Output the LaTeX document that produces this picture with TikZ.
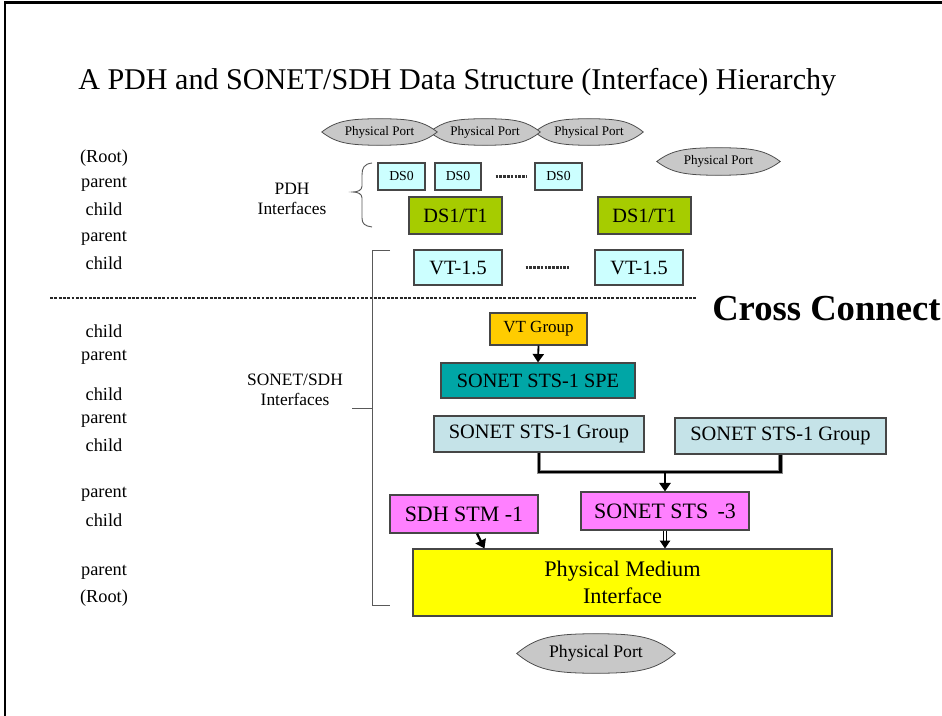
\documentclass[tikz,border=0pt]{standalone}
\usepackage{fontspec}
\setmainfont{Liberation Serif}
\usetikzlibrary{arrows.meta,calc,shadows}

\definecolor{boxline}{RGB}{70,70,70}
\definecolor{dszero}{RGB}{204,255,255}
\definecolor{dsone}{RGB}{166,204,0}
\definecolor{vtgroup}{RGB}{255,204,0}
\definecolor{spe}{RGB}{0,166,166}
\definecolor{stsgroup}{RGB}{197,227,232}
\definecolor{stm}{RGB}{255,128,255}
\definecolor{medium}{RGB}{255,255,0}
\definecolor{port}{RGB}{200,200,200}

\pgfdeclarelayer{portlayer}
\pgfsetlayers{portlayer,main}

\newcommand\fs[1]{\fontsize{#1}{#1}\selectfont}

% grey port outline: an ellipse with pointed left and right ends,
% filling the bounding box of the named node
\newcommand\portoutline[1]{%
  \draw[portbody] let \p1=(#1.north west), \p2=(#1.south east),
      \n1={\x2-\x1}, \n2={\y1-\y2}, \n3={(\x1+\x2)/2}, \n4={(\y1+\y2)/2} in
    (\x1,\n4)
    .. controls ({\x1+0.12*\n1},{\y1-0.1*\n2}) and ({\n3-0.28*\n1},\y1) .. (\n3,\y1)
    .. controls ({\n3+0.28*\n1},\y1) and ({\x2-0.12*\n1},{\y1-0.1*\n2}) .. (\x2,\n4)
    .. controls ({\x2-0.12*\n1},{\y2+0.1*\n2}) and ({\n3+0.28*\n1},\y2) .. (\n3,\y2)
    .. controls ({\n3-0.28*\n1},\y2) and ({\x1+0.12*\n1},{\y2+0.1*\n2}) .. cycle;}

\tikzset{
  % a rectangle given by its corners (x1,y1) and (x2,y2) in picture units
  spanning/.style n args={4}{at={({(#1+#3)/2},{(#2+#4)/2})},
    minimum width={(#3-#1)*0.7643pt}, minimum height={(#4-#2)*0.7643pt}},
  box/.style={draw=boxline, line width=0.8pt, inner sep=0pt, align=center,
    drop shadow={shadow xshift=1pt, shadow yshift=-1pt, fill=black!55, opacity=1}},
  portbox/.style={inner sep=0pt, align=center},
  portbody/.style={draw=black!70, line width=0.6pt, fill=port},
  lbl/.style={font=\fs{14}, inner sep=0pt},
  bracketline/.style={draw=black!65, line width=0.7pt},
  thickarrow/.style={line width=1.6pt, -{Triangle[length=6.5pt,width=8.5pt]}},
  haloline/.style={preaction={draw=black!45, line width=3.4pt}, line width=1.7pt},
  dblarrow/.style={line width=0.7pt, double=white, double distance=1.4pt,
    -{Triangle[length=6pt,width=8pt]}},
  dotrun/.style={line width=2.6pt, dash pattern=on 2pt off 0.9pt, black!80},
  crossline/.style={line width=1.4pt, dash pattern=on 2.2pt off 1.1pt, black!85},
}

\begin{document}
\begin{tikzpicture}[x=0.7643pt, y=-0.7643pt]
\useasboundingbox (0,0) rectangle (942,716);

% page frame (top and left edges)
\draw[line width=2.2pt] (5,716) -- (5,2.5) -- (942,2.5);

% title
\node[anchor=base west, inner sep=0pt, font=\fs{23}] (title) at (78,90)
  {A PDH and SONET/SDH Data Structure (Interface) Hierarchy};

% physical ports
\node[portbox, spanning={322}{119}{437}{145}, font=\fs{10}] (pp1) {Physical Port};
\node[portbox, spanning={430}{119}{540}{145}, font=\fs{10}] (pp2) {Physical Port};
\node[portbox, spanning={535}{119}{643}{145}, font=\fs{10}] (pp3) {Physical Port};
\node[portbox, spanning={657}{148}{780}{175}, font=\fs{10}] (pp4) {Physical Port};
\node[portbox, spanning={517}{634}{675}{673}, font=\fs{13.5}] (pp5) {Physical Port};
\begin{pgfonlayer}{portlayer}
  \portoutline{pp5}
  \portoutline{pp4}
  \portoutline{pp3}
  \portoutline{pp2}
  \portoutline{pp1}
\end{pgfonlayer}

% PDH interfaces
\node[box, fill=dszero, spanning={378}{163}{425}{190}, font=\fs{10.5}] (ds0a) {DS0};
\node[box, fill=dszero, spanning={435}{163}{481}{190}, font=\fs{10.5}] (ds0b) {DS0};
\node[box, fill=dszero, spanning={535}{163}{582}{190}, font=\fs{10.5}] (ds0c) {DS0};
\draw[dotrun] ($(ds0b.east)+(14,0)$) -- ($(ds0c.west)+(-7,0)$);

\node[box, fill=dsone, spanning={409}{197}{502}{234}, font=\fs{15.5}] (ds1a) {DS1/T1};
\node[box, fill=dsone, spanning={598}{197}{691}{234}, font=\fs{15.5}] (ds1b) {DS1/T1};

\node[box, fill=dszero, spanning={414}{250}{502}{285}, font=\fs{15.5}] (vta) {VT-1.5};
\node[box, fill=dszero, spanning={595}{250}{683}{285}, font=\fs{15.5}] (vtb) {VT-1.5};
\draw[dotrun] ($(vta.east)+(23,0)$) -- ($(vtb.west)+(-25,0)$);

% PDH brace
\node[font=\fs{13.3}, align=center, inner sep=0pt] (pdh) at (292,199) {PDH\\[2pt]Interfaces};
\draw[bracketline] (372,163) .. controls (364,164) and (362,168) .. (362,175)
  -- (362,186) .. controls (362,190) and (358,192) .. (353,192)
  .. controls (358,192) and (362,194) .. (362,198)
  -- (362,218) .. controls (362,224) and (365,226) .. (372,227);

% cross-connect boundary
\coordinate (cl) at (50,298);
\coordinate (cr) at (697,298);
\draw[crossline] (cl) -- (cr);
\node[anchor=base west, inner sep=0pt, font=\fs{28}\bfseries] (cc) at (712,321) {Cross Connect};

% SONET/SDH interfaces
\node[box, fill=vtgroup, spanning={490}{313}{587}{345}, font=\fs{13}] (vtg) {VT Group};
\node[box, fill=spe, spanning={441}{363}{635}{398}, font=\fs{15.5}] (spe) {SONET STS-1 SPE};
\node[box, fill=stsgroup, spanning={434}{416}{644}{452}, font=\fs{15.6}] (g1) {SONET STS-1 Group};
\node[box, fill=stsgroup, spanning={675}{418}{886}{454}, font=\fs{15.6}] (g2) {SONET STS-1 Group};
\node[box, fill=stm, spanning={390}{495}{538}{533}, font=\fs{16.8}] (stm1) {SDH STM -1};
\node[box, fill=stm, spanning={581}{492}{749}{530}, font=\fs{16.8}] (sts3) {SONET STS \,-3};
\node[box, fill=medium, spanning={413}{549}{832}{616}, font=\fs{17}] (med)
  {Physical Medium\\[4pt]Interface};

\node[font=\fs{13.3}, align=center, inner sep=0pt] (sonet) at (295,390)
  {SONET/SDH\\[2pt]Interfaces};
\draw[bracketline] (390,250) -- (372,250) -- (372,605) -- (390,605);
\draw[bracketline] (352,408) -- (372,408);

% connectors
\draw[thickarrow, line width=1.4pt] (vtg.south) -- (spe.north);
\coordinate (join) at (sts3.north |- 0,472);
\draw[haloline] (g1.south) |- (join);
\draw[haloline] (g2.south) |- (join);
\draw[thickarrow, line width=2pt] (join) -- (sts3.north);
\draw[thickarrow, line width=1.8pt] ($(stm1.south)+(13,0)$) -- ($(med.north west)+(72,0)$);
\draw[dblarrow] (sts3.south) -- (sts3.south |- med.north);

% level labels
\node[lbl] (r1) at (104,158) {(Root)};
\node[lbl] (r2) at (104,184) {parent};
\node[lbl] (r3) at (104,209) {child};
\node[lbl] (r4) at (104,238) {parent};
\node[lbl] (r5) at (104,263) {child};
\node[lbl] (r6) at (104,331) {child};
\node[lbl] (r7) at (104,357) {parent};
\node[lbl] (r8) at (104,394) {child};
\node[lbl] (r9) at (104,420) {parent};
\node[lbl] (r10) at (104,445) {child};
\node[lbl] (r11) at (104,494) {parent};
\node[lbl] (r12) at (104,520) {child};
\node[lbl] (r13) at (104,572) {parent};
\node[lbl] (r14) at (104,598) {(Root)};
\end{tikzpicture}
\end{document}
